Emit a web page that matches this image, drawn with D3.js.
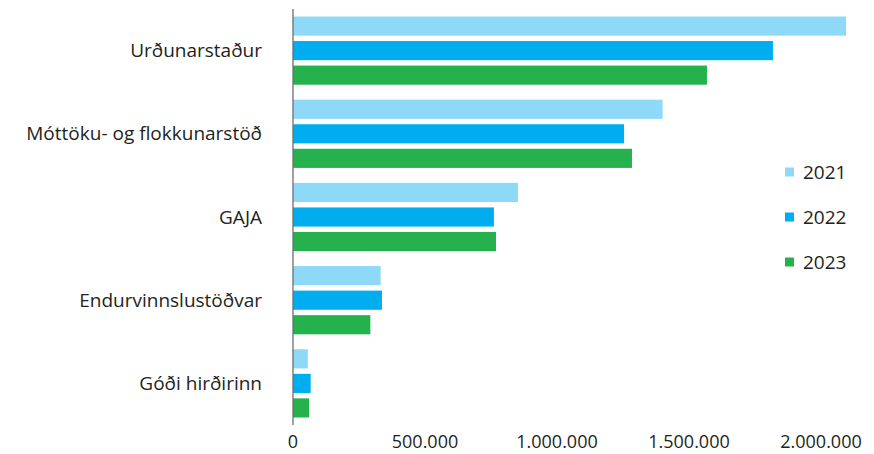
<!DOCTYPE html>
<html>
<head>
<meta charset="utf-8">
<script src="https://cdn.jsdelivr.net/npm/d3@7"></script>
<style>
  body { margin: 0; background: #fff; }
  text { font-family: "Open Sans", sans-serif; fill: #231f20; }
</style>
</head>
<body>
<div id="chart"></div>
<script>
const categories = ["Urðunarstaður", "Móttöku- og flokkunarstöð", "GAJA", "Endurvinnslustöðvar", "Góði hirðirinn"];
const years = ["2021", "2022", "2023"];
const values2021 = [2095000, 1400000, 852000, 332000, 56000];
const values2022 = [1818000, 1254000, 761000, 337000, 67000];
const values2023 = [1568000, 1284000, 769000, 293000, 61000];
const colors = ["#8ed8f8", "#00aeef", "#25b24c"];
const ticks = [0, 500000, 1000000, 1500000, 2000000];

const series = [values2021, values2022, values2023];
const width = 874, height = 454;

const svg = d3.select("#chart")
  .append("svg")
  .attr("width", width)
  .attr("height", height);

const x = d3.scaleLinear().domain([0, 2000000]).range([293, 821]);

const y0 = d3.scaleBand()
  .domain(categories)
  .range([9, 425])
  .paddingInner(0.18)
  .paddingOuter(0.09);

const y1 = d3.scaleBand()
  .domain(years)
  .range([0, y0.bandwidth()])
  .paddingInner(0.22);

// bars
const group = svg.append("g")
  .selectAll("g")
  .data(categories)
  .enter().append("g")
  .attr("transform", d => `translate(0,${y0(d)})`);

group.selectAll("rect")
  .data((d, i) => years.map((yr, j) => ({ year: yr, value: series[j][i], color: colors[j] })))
  .enter().append("rect")
  .attr("x", x(0))
  .attr("y", d => y1(d.year))
  .attr("width", d => x(d.value) - x(0))
  .attr("height", y1.bandwidth())
  .attr("fill", d => d.color);

// left axis line + category labels
svg.append("line")
  .attr("x1", x(0)).attr("x2", x(0))
  .attr("y1", 9).attr("y2", 425)
  .attr("stroke", "#6d6e71")
  .attr("stroke-width", 1.3);

svg.append("g")
  .selectAll("text")
  .data(categories)
  .enter().append("text")
  .attr("x", 262)
  .attr("y", d => y0(d) + y0.bandwidth() / 2)
  .attr("dy", ".35em")
  .attr("text-anchor", "end")
  .attr("font-size", 19)
  .text(d => d);

// x tick labels
const fmt = d3.formatLocale({ decimal: ",", thousands: ".", grouping: [3], currency: ["", ""] }).format(",");
svg.append("g")
  .selectAll("text")
  .data(ticks)
  .enter().append("text")
  .attr("x", d => x(d))
  .attr("y", 448)
  .attr("text-anchor", "middle")
  .attr("font-size", 18)
  .text(d => fmt(d));

// legend
const legend = svg.append("g")
  .selectAll("g")
  .data(years)
  .enter().append("g")
  .attr("transform", (d, i) => `translate(785,${172 + i * 45})`);

legend.append("rect")
  .attr("x", 0).attr("y", -4.5)
  .attr("width", 9).attr("height", 9)
  .attr("fill", (d, i) => colors[i]);

legend.append("text")
  .attr("x", 18)
  .attr("dy", ".35em")
  .attr("font-size", 19)
  .text(d => d);
</script>
</body>
</html>
